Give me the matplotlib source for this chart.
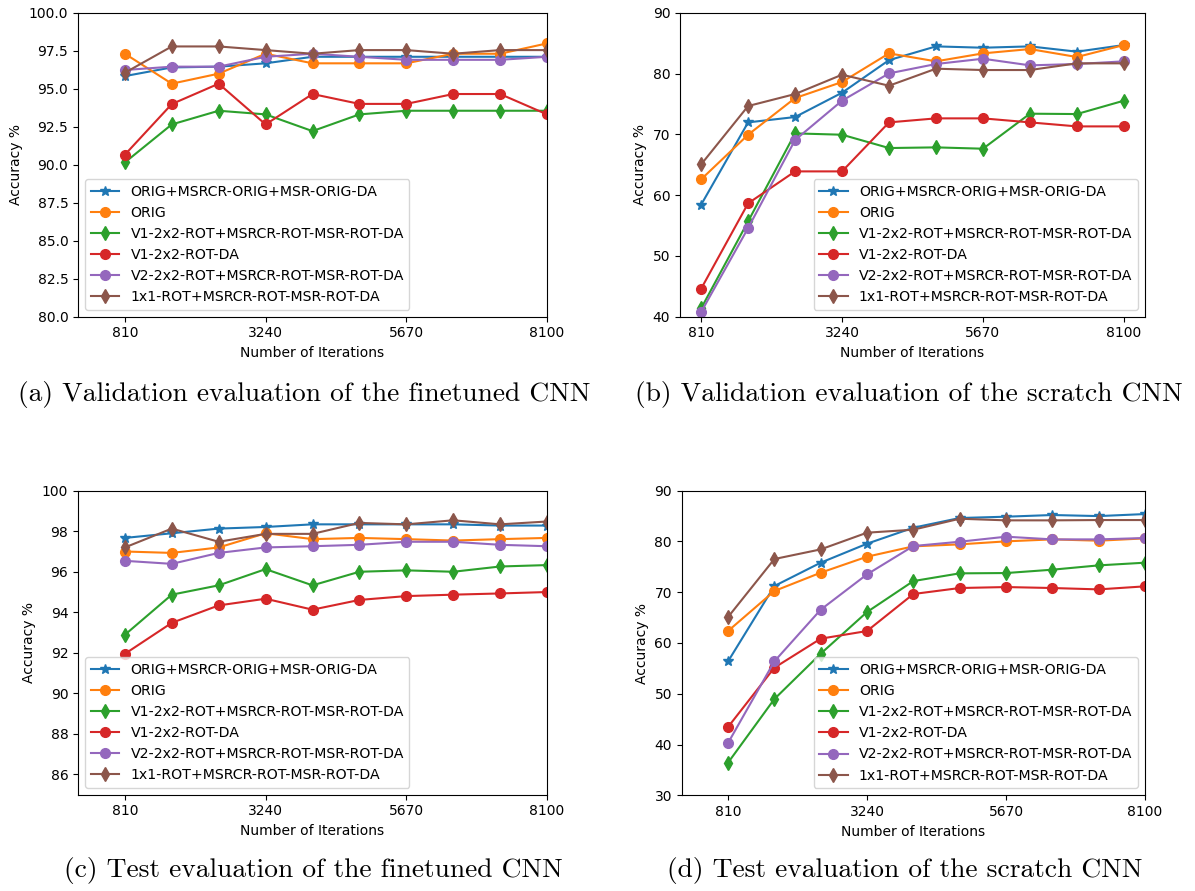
import matplotlib
matplotlib.use("Agg")
import matplotlib.pyplot as plt

# iteration checkpoints (every 810 iterations)
iterations = [810, 1620, 2430, 3240, 4050, 4860, 5670, 6480, 7290, 8100]

series_names = [
    "ORIG+MSRCR-ORIG+MSR-ORIG-DA",
    "ORIG",
    "V1-2x2-ROT+MSRCR-ROT-MSR-ROT-DA",
    "V1-2x2-ROT-DA",
    "V2-2x2-ROT+MSRCR-ROT-MSR-ROT-DA",
    "1x1-ROT+MSRCR-ROT-MSR-ROT-DA",
]
markers = ["*", "o", "d", "o", "o", "d"]

# (a) validation, finetuned CNN
val_finetuned = [
    [95.83, 96.40, 96.45, 96.67, 97.10, 97.10, 97.10, 97.10, 97.10, 97.10],
    [97.30, 95.33, 95.99, 97.30, 96.67, 96.67, 96.67, 97.30, 97.30, 97.98],
    [90.15, 92.65, 93.55, 93.31, 92.21, 93.31, 93.55, 93.55, 93.55, 93.55],
    [90.66, 93.99, 95.33, 92.65, 94.65, 94.00, 94.00, 94.65, 94.65, 93.31],
    [96.23, 96.45, 96.45, 97.10, 97.30, 97.10, 96.90, 96.90, 96.90, 97.10],
    [96.05, 97.78, 97.78, 97.54, 97.30, 97.54, 97.54, 97.30, 97.54, 97.54],
]

# (b) validation, scratch CNN
val_scratch = [
    [58.42, 71.96, 72.84, 76.84, 82.20, 84.46, 84.24, 84.46, 83.59, 84.68],
    [62.59, 69.93, 75.96, 78.60, 83.31, 82.00, 83.31, 84.02, 82.71, 84.68],
    [41.37, 55.68, 70.15, 69.93, 67.74, 67.85, 67.63, 73.39, 73.33, 75.53],
    [44.60, 58.64, 63.90, 63.90, 71.96, 72.62, 72.62, 71.96, 71.30, 71.30],
    [40.77, 54.58, 69.06, 75.53, 80.02, 81.56, 82.43, 81.34, 81.56, 82.00],
    [65.05, 74.65, 76.62, 79.80, 77.99, 80.79, 80.57, 80.57, 81.67, 81.67],
]

# (c) test, finetuned CNN
test_finetuned = [
    [97.67, 97.90, 98.13, 98.21, 98.34, 98.34, 98.34, 98.34, 98.28, 98.28],
    [97.00, 96.93, 97.20, 97.90, 97.61, 97.67, 97.61, 97.54, 97.61, 97.67],
    [92.89, 94.87, 95.33, 96.13, 95.33, 96.00, 96.07, 96.00, 96.26, 96.33],
    [91.95, 93.48, 94.34, 94.67, 94.13, 94.61, 94.80, 94.87, 94.93, 95.00],
    [96.54, 96.39, 96.93, 97.20, 97.26, 97.33, 97.48, 97.48, 97.33, 97.26],
    [97.20, 98.13, 97.48, 97.87, 97.87, 98.41, 98.34, 98.54, 98.34, 98.48],
]

# (d) test, scratch CNN
test_scratch = [
    [56.38, 71.22, 75.82, 79.56, 82.71, 84.62, 84.88, 85.21, 85.00, 85.40],
    [62.36, 70.24, 73.85, 77.00, 79.04, 79.43, 80.02, 80.41, 80.15, 80.61],
    [36.42, 48.96, 57.89, 66.10, 72.20, 73.72, 73.78, 74.44, 75.29, 75.82],
    [43.45, 55.13, 60.85, 62.36, 69.65, 70.83, 71.02, 70.83, 70.56, 71.16],
    [40.30, 56.38, 66.56, 73.52, 79.10, 79.95, 80.94, 80.41, 80.41, 80.68],
    [65.11, 76.54, 78.44, 81.73, 82.32, 84.48, 84.16, 84.16, 84.22, 84.22],
]

captions = [
    "(a) Validation evaluation of the finetuned CNN",
    "(b) Validation evaluation of the scratch CNN",
    "(c) Test evaluation of the finetuned CNN",
    "(d) Test evaluation of the scratch CNN",
]

W, H = 1195, 891
fig = plt.figure(figsize=(W / 100, H / 100), dpi=100)


def px_axes(left, top, right, bottom):
    return fig.add_axes([left / W, 1 - bottom / H, (right - left) / W, (bottom - top) / H])


panels = [
    # data, axes box in px, ylim, xlim, legend loc, caption centre
    (val_finetuned, (78, 12.7, 547, 316.7), (80, 100), (0, 8100), "lower left", (304, 395)),
    (val_scratch, (680, 12.7, 1145, 316.7), (40, 90), None, "lower right", (909, 395)),
    (test_finetuned, (78, 490.7, 547, 794.7), (85, 100), (0, 8100), "lower left", (313, 871)),
    (test_scratch, (681.7, 490.7, 1145, 795.3), (30, 90), (0, 8100), "lower right", (905, 871)),
]

for (data, box, ylim, xlim, loc, cap), caption in zip(panels, captions):
    ax = px_axes(*box)
    for name, mk, vals in zip(series_names, markers, data):
        ax.plot(iterations, vals, marker=mk, markersize=7, label=name)
    ax.set_ylim(*ylim)
    if xlim is not None:
        ax.set_xlim(*xlim)
    ax.set_xticks([810, 3240, 5670, 8100])
    ax.set_xlabel("Number of Iterations")
    ax.set_ylabel("Accuracy %")
    ax.legend(loc=loc, fontsize=10.2)
    fig.text(cap[0] / W, 1 - cap[1] / H, caption, family="cmr10",
             fontsize=19.8, ha="center", va="center")

fig.savefig("out.png", dpi=100)
